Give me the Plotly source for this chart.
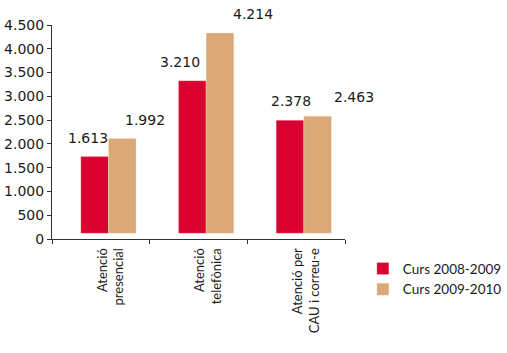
import plotly.graph_objects as go

categories = ["Atenció presencial", "Atenció telefònica", "Atenció per CAU i correu-e"]
tick_labels = ["Atenció<br>presencial", "Atenció<br>telefònica", "Atenció per<br>CAU i correu-e"]
series_names = ["Curs 2008-2009", "Curs 2009-2010"]
values_2008 = [1613, 3210, 2378]
values_2009 = [1992, 4214, 2463]
y_ticks = [0, 500, 1000, 1500, 2000, 2500, 3000, 3500, 4000, 4500]

# style
RED = "#DA0030"
TAN = "#DAA977"
BAR_BASE = 120          # the bars float slightly above the axis in the original
BAR_W = 0.283
OFFSETS = [-0.205, 0.078]
LABEL_XSHIFT = [[-13, -19, -5], [44, 54, 58]]
FONT = "Lato"
NUM_FONT = "DejaVu Sans"

fig = go.Figure()
for vals, name, col, off in [(values_2008, series_names[0], RED, OFFSETS[0]),
                             (values_2009, series_names[1], TAN, OFFSETS[1])]:
    fig.add_trace(go.Bar(
        x=categories, y=vals, base=BAR_BASE, name=name,
        marker=dict(color=col, line=dict(color="rgba(255,235,215,0.6)", width=0.5)),
        width=BAR_W, offset=off, hoverinfo="skip",
    ))

annotations = []
for si, vals in enumerate([values_2008, values_2009]):
    for ci, v in enumerate(vals):
        annotations.append(dict(
            x=categories[ci], y=v + BAR_BASE, xref="x", yref="y",
            text=f"{v:,}".replace(",", "."), showarrow=False,
            xshift=LABEL_XSHIFT[si][ci], yshift=19, yanchor="middle",
            font=dict(family=NUM_FONT, size=14, color="#1a1a1a"),
        ))

fig.update_layout(
    width=507, height=353,
    margin=dict(l=52, r=162, t=25, b=114, autoexpand=False),
    paper_bgcolor="white", plot_bgcolor="white",
    barmode="overlay",
    separators=",.",
    font=dict(family=FONT, size=14, color="#1a1a1a"),
    showlegend=True,
    legend=dict(x=1.061, y=-0.067, xanchor="left", yanchor="top",
                font=dict(family=FONT, size=13.5, color="#1a1a1a"),
                itemwidth=30, tracegroupgap=0, bgcolor="rgba(0,0,0,0)"),
    annotations=annotations,
)
fig.update_xaxes(
    type="category", tickvals=categories, ticktext=tick_labels,
    range=[-0.5, 2.5], autorange=False, automargin=False,
    tickangle=-90, tickson="boundaries", ticks="outside", ticklen=4,
    tickcolor="#333", showline=True, linecolor="#333", linewidth=1,
    ticklabelshift=10, ticklabelstandoff=3,
    showgrid=False, tickfont=dict(family=FONT, size=13, color="#1a1a1a"),
)
fig.update_yaxes(
    range=[0, 4500], tickvals=y_ticks, tickformat=",d", automargin=False,
    ticks="outside", ticklen=4, tickcolor="#333",
    showline=True, linecolor="#333", linewidth=1, showgrid=False, zeroline=False,
    tickfont=dict(family=NUM_FONT, size=14, color="#1a1a1a"),
)

fig.write_html("out.html")
